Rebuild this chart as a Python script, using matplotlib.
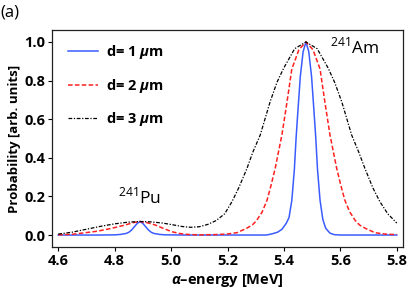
import numpy as np
import matplotlib
matplotlib.use("Agg")
import matplotlib.pyplot as plt

plt.rcParams['font.family'] = ['Open Sans', 'DejaVu Sans']
plt.rcParams['mathtext.fontset'] = 'custom'
plt.rcParams['mathtext.rm'] = 'Open Sans'
plt.rcParams['mathtext.it'] = 'Open Sans:italic:bold'
plt.rcParams['mathtext.bf'] = 'Open Sans:bold'

# d = 1 um
e1 = [4.60, 4.75, 4.80, 4.82, 4.84, 4.85, 4.86, 4.87, 4.88, 4.89, 4.90, 4.91,
      4.92, 4.93, 4.94, 4.96, 4.98, 5.05, 5.30, 5.338, 5.358, 5.378, 5.393,
      5.408, 5.418, 5.428, 5.437, 5.443, 5.448, 5.458, 5.468, 5.478, 5.488,
      5.498, 5.508, 5.513, 5.519, 5.528, 5.538, 5.548, 5.563, 5.578, 5.60, 5.80]
p1 = [0.0, 0.0, 0.001, 0.003, 0.008, 0.014, 0.026, 0.043, 0.060, 0.070, 0.060, 0.043,
      0.026, 0.014, 0.008, 0.003, 0.001, 0.0, 0.0, 0.0, 0.006, 0.015, 0.03,
      0.06, 0.09, 0.18, 0.34, 0.50, 0.61, 0.82, 0.95, 1.0, 0.95,
      0.82, 0.61, 0.50, 0.34, 0.18, 0.08, 0.035, 0.01, 0.002, 0.0, 0.0]

# d = 2 um
e2 = [4.60, 4.65, 4.696, 4.74, 4.79, 4.838, 4.865, 4.89, 4.915, 4.944, 4.975,
      5.003, 5.03, 5.06, 5.10, 5.15, 5.198, 5.233, 5.268, 5.288, 5.303, 5.323,
      5.34, 5.353, 5.369, 5.393, 5.411, 5.428, 5.453, 5.478, 5.503, 5.528,
      5.545, 5.563, 5.587, 5.603, 5.616, 5.633, 5.653, 5.668, 5.688, 5.723,
      5.758, 5.80]
p2 = [0.001, 0.004, 0.012, 0.02, 0.035, 0.052, 0.064, 0.070, 0.064, 0.052, 0.033,
      0.017, 0.008, 0.003, 0.001, 0.002, 0.005, 0.012, 0.035, 0.052, 0.075, 0.12,
      0.18, 0.25, 0.345, 0.52, 0.69, 0.86, 0.96, 1.0, 0.96, 0.86,
      0.69, 0.52, 0.345, 0.25, 0.18, 0.12, 0.075, 0.052, 0.035, 0.012,
      0.005, 0.002]

# d = 3 um
e3 = [4.60, 4.65, 4.70, 4.75, 4.80, 4.85, 4.89, 4.93, 4.97, 5.01, 5.04, 5.07,
      5.10, 5.13, 5.16, 5.19, 5.216, 5.24, 5.269, 5.29, 5.316, 5.351, 5.375,
      5.399, 5.438, 5.478, 5.518, 5.557, 5.58, 5.605, 5.64, 5.665, 5.687,
      5.715, 5.74, 5.768, 5.80]
p3 = [0.005, 0.015, 0.03, 0.045, 0.058, 0.067, 0.070, 0.068, 0.062, 0.052, 0.044, 0.040,
      0.043, 0.055, 0.075, 0.11, 0.173, 0.245, 0.345, 0.43, 0.518, 0.69, 0.79,
      0.864, 0.965, 1.0, 0.965, 0.864, 0.79, 0.69, 0.518, 0.43, 0.345,
      0.245, 0.173, 0.11, 0.062]

xticks = [4.6, 4.8, 5.0, 5.2, 5.4, 5.6, 5.8]
yticks = [0.0, 0.2, 0.4, 0.6, 0.8, 1.0]

fig = plt.figure(figsize=(4.08, 2.93), dpi=100)
ax = fig.add_axes([52/408, 1-247/293, (403-52)/408, (247-30)/293])

ax.plot(e1, p1, color='#3a5cff', lw=1.1, label=r'd= 1 $\mu$m')
ax.plot(e2, p2, color='#ff2020', lw=1.1, ls=(0, (3, 1.5)), label=r'd= 2 $\mu$m')
ax.plot(e3, p3, color='black', lw=0.9, ls=(0, (3, 1.3, 1, 1.3)), label=r'd= 3 $\mu$m')

ax.set_xlim(4.578, 5.822)
ax.set_ylim(-0.062, 1.062)
ax.set_xticks(xticks)
ax.set_yticks(yticks)
ax.set_xticklabels(['%.1f' % t for t in xticks])
ax.set_yticklabels(['%.1f' % t for t in yticks])
ax.tick_params(direction='out', length=3, width=0.8, labelsize=10.5, pad=2)
for lab in ax.get_xticklabels() + ax.get_yticklabels():
    lab.set_fontweight('bold')
for s in ax.spines.values():
    s.set_linewidth(0.9)
    s.set_color('#222222')

ax.set_xlabel(r'$\alpha$–energy [MeV]', fontweight='bold', fontsize=10.5, labelpad=3)
ax.set_ylabel('Probability [arb. units]', fontweight='bold', fontsize=9.5, labelpad=2)

ax.text(5.563, 0.943, r'$^{241}$Am', fontsize=12.5, ha='left', va='baseline')
ax.text(4.812, 0.166, r'$^{241}$Pu', fontsize=12.5, ha='left', va='baseline')
fig.text(0.002, 0.958, '(a)', fontsize=12, ha='left', va='center')

leg = ax.legend(loc='upper left', bbox_to_anchor=(0.03, 0.965), frameon=False,
                handlelength=2.0, handletextpad=0.6, labelspacing=1.05,
                borderaxespad=0.0, prop={'weight': 'bold', 'size': 10.5})

fig.savefig('out.png', dpi=100)
